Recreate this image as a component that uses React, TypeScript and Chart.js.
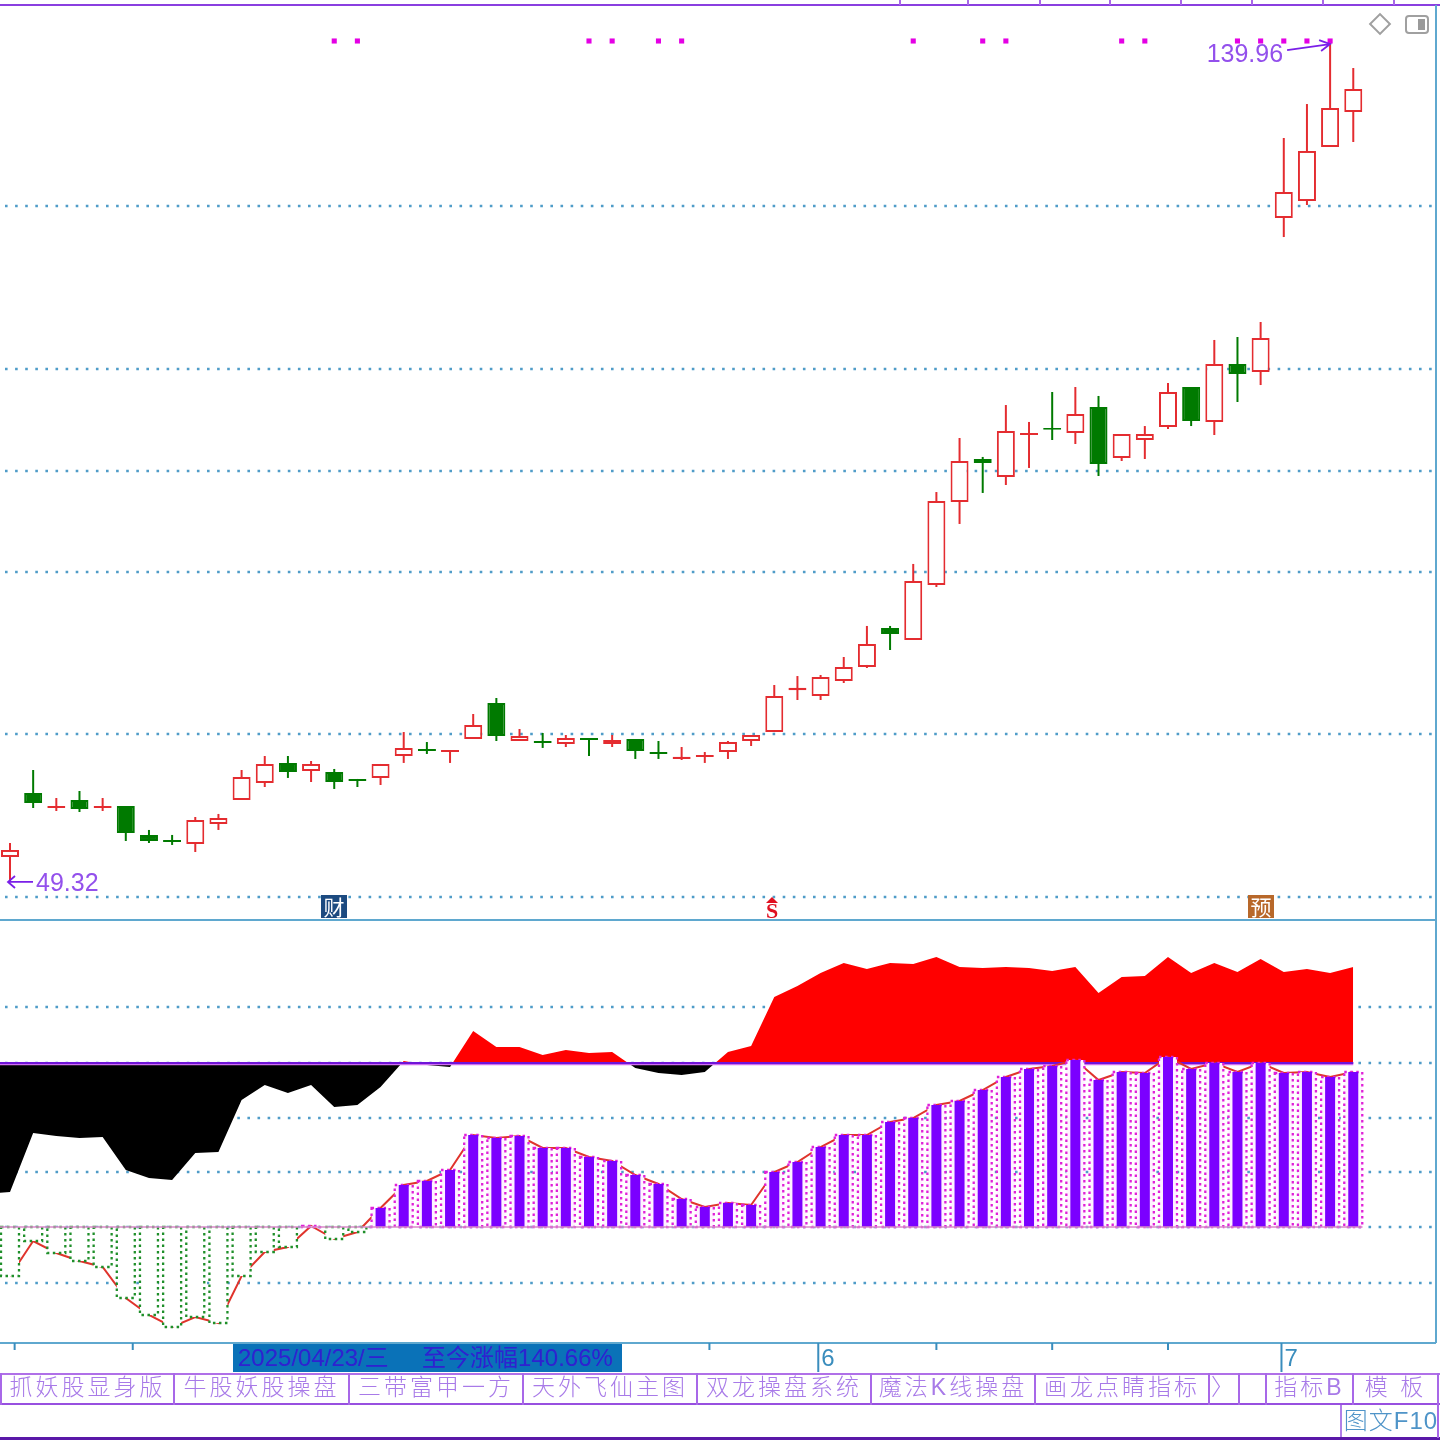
import React, { useEffect, useRef } from "react";
import { Chart, registerables } from "chart.js";

Chart.register(...registerables);

// ---------- candles (daily prices) ----------
const opens = [52.02,58.93,57.32,58.18,57.32,57.53,54.40,53.85,53.42,55.59,58.18,60.01,62.18,61.31,61.20,60.45,60.56,62.93,63.68,63.37,64.77,68.66,64.55,64.54,64.23,64.87,64.23,64.77,63.36,62.60,62.81,63.36,64.55,65.52,70.03,69.41,71.03,72.55,76.76,75.46,81.41,90.37,95.02,93.07,97.62,98.37,97.83,100.64,95.13,97.07,98.48,102.80,99.02,105.28,104.42,121.06,122.89,128.73,132.51];
const closes = [52.78,57.85,57.53,57.21,57.53,54.61,53.75,53.65,56.02,56.23,60.66,62.07,61.20,62.07,60.12,60.23,62.07,63.80,63.48,63.57,66.28,65.09,65.09,64.34,64.88,64.67,64.66,63.47,63.16,62.85,63.05,64.44,65.20,69.41,70.31,71.47,72.55,75.03,76.11,81.84,90.48,94.80,94.60,98.04,97.82,98.17,99.88,94.48,97.72,97.72,102.26,99.13,105.28,104.20,108.09,123.87,128.30,132.94,134.99];
const highs = [53.53,61.42,58.39,59.15,58.39,57.53,54.94,54.40,56.34,56.67,61.42,62.93,62.93,62.39,61.53,60.45,62.07,65.52,64.44,63.57,67.47,69.20,65.85,65.42,65.20,64.87,65.20,64.77,64.55,63.90,63.36,64.55,65.20,70.60,71.57,71.68,73.63,76.98,76.98,83.68,91.45,97.29,95.24,100.85,99.02,102.26,102.80,101.83,97.72,98.58,103.23,102.80,107.88,108.20,109.82,129.70,133.37,139.96,137.26];
const lows = [49.32,57.31,56.99,56.88,56.99,53.75,53.53,53.32,52.56,54.94,58.18,59.58,60.56,60.12,59.37,59.58,59.80,62.18,63.15,62.18,64.77,64.55,64.55,63.80,63.90,62.93,63.90,62.61,62.61,62.50,62.18,62.61,64.01,65.52,68.98,68.98,70.82,72.44,74.38,75.46,81.19,88.00,91.35,92.21,94.05,97.07,96.64,93.18,94.80,95.02,98.26,98.58,97.61,101.18,103.01,119.00,122.46,128.73,129.27];

// ---------- indicator pane ----------
// first value belongs to the session just before the visible window
const trendArea = [33,35,94,91,89,90,57,49,47,74,75,127,142,134,142,120,122,140,166,162,160,196,180,180,172,177,174,175,159,154,152,155,175,181,230,241,254,264,258,264,263,270,260,259,260,259,256,260,234,250,251,270,254,264,255,268,255,258,254,260];
const trendBase = 164;
const histogram = [-49,-14,-26,-34,-40,-71,-88,-100,-90,-96,-49,-25,-20,1,-12,-5,19,42,46,57,92,89,91,79,79,70,66,52,43,28,20,24,22,55,65,80,92,92,105,109,122,126,137,150,158,161,167,147,155,154,170,158,164,155,164,154,155,150,155];

// ---------- marks and grid ----------
const signalDays = [14,15,25,26,28,29,39,42,43,48,49,53,54,55,56,57];
const signalPrice = 140.18;
const priceGrid = [122.35,104.74,93.72,82.81,65.31,47.70];
const indicatorGrid = [220,164,109,55,0,-56];
const weekTicks = [0.2,5.3,30.2,40,45,50];
const monthTicks = [{ day: 34.9, label: "6" }, { day: 54.9, label: "7" }];
const highLabel = { day: 57, price: 139.96 };
const lowLabel = { day: 0, price: 49.32 };

// ---------- interface labels ----------
const tabs = [
  { from: 0, to: 173, text: "抓妖股显身版" },
  { from: 173, to: 348, text: "牛股妖股操盘" },
  { from: 348, to: 522, text: "三带富甲一方" },
  { from: 522, to: 696, text: "天外飞仙主图" },
  { from: 696, to: 870, text: "双龙操盘系统" },
  { from: 870, to: 1034, text: "魔法K线操盘" },
  { from: 1034, to: 1208, text: "画龙点睛指标" },
  { from: 1208, to: 1238, text: "〉" },
  { from: 1238, to: 1265, text: "" },
  { from: 1265, to: 1352, text: "指标B" },
  { from: 1352, to: 1437, text: "模 板" },
];
const rangeLabel = "2025/04/23/三     至今涨幅140.66%";
const topTicks = [900,968,1040,1110,1181,1252,1323,1394];

const UP = "#e42c30";
const DOWN = "#007a00";
const FONT = '"Liberation Sans", "Noto Sans CJK SC", sans-serif';
const days = opens.map((_, i) => i);

const chrome = {
  id: "chrome",
  beforeDatasetsDraw(chart: any) {
    const { ctx, scales } = chart;
    ctx.save();
    ctx.strokeStyle = "#4f9cc8";
    ctx.lineWidth = 2.4;
    ctx.setLineDash([2.6, 7.5]);
    priceGrid.forEach((v) => {
      const y = Math.round(scales.price.getPixelForValue(v));
      ctx.beginPath(); ctx.moveTo(5, y); ctx.lineTo(1436, y); ctx.stroke();
    });
    indicatorGrid.forEach((v) => {
      const y = Math.round(scales.ind.getPixelForValue(v));
      ctx.beginPath(); ctx.moveTo(5, y); ctx.lineTo(1436, y); ctx.stroke();
    });
    ctx.setLineDash([]);
    ctx.restore();
  },
  afterDatasetDraw(chart: any, args: any) {
    const ds = chart.data.datasets[args.index];
    if (!ds.dottedBox) return;
    const { ctx } = chart;
    ctx.save();
    ctx.lineWidth = 2.3;
    ctx.setLineDash([2.5, 3.5]);
    args.meta.data.forEach((bar: any, i: number) => {
      const p = bar.getProps(["x", "y", "base", "width"], true);
      ctx.strokeStyle = histogram[i] >= 0 ? "#e020d8" : "#1f8f2a";
      ctx.strokeRect(p.x - p.width / 2, Math.min(p.y, p.base), p.width, Math.abs(p.base - p.y));
    });
    ctx.restore();
  },
  afterDraw(chart: any) {
    const { ctx, scales } = chart;
    const violet = "#7a1fe8";
    ctx.save();
    // pane borders
    ctx.strokeStyle = "#8a3fe0";
    ctx.lineWidth = 2;
    ctx.beginPath(); ctx.moveTo(0, 5); ctx.lineTo(1440, 5); ctx.stroke();
    ctx.beginPath();
    topTicks.forEach((x) => { ctx.moveTo(x, 0); ctx.lineTo(x, 5); });
    ctx.strokeStyle = "#a868e8"; ctx.stroke();
    ctx.strokeStyle = "#5fa8cf";
    ctx.lineWidth = 2;
    [920, 1343].forEach((y) => { ctx.beginPath(); ctx.moveTo(0, y); ctx.lineTo(1436, y); ctx.stroke(); });
    ctx.beginPath(); ctx.moveTo(1436, 5); ctx.lineTo(1436, 1343); ctx.stroke();
    // time axis
    ctx.strokeStyle = "#3a8dbd";
    weekTicks.forEach((d) => {
      const x = scales.x.getPixelForValue(d);
      ctx.beginPath(); ctx.moveTo(x, 1343); ctx.lineTo(x, 1350); ctx.stroke();
    });
    ctx.fillStyle = "#3a8dbd";
    ctx.font = "24px " + FONT;
    ctx.textBaseline = "alphabetic";
    monthTicks.forEach((t) => {
      const x = scales.x.getPixelForValue(t.day);
      ctx.beginPath(); ctx.moveTo(x, 1343); ctx.lineTo(x, 1372); ctx.stroke();
      ctx.fillText(t.label, x + 3, 1366);
    });
    // extremes
    const hx = scales.x.getPixelForValue(highLabel.day);
    const hy = scales.price.getPixelForValue(highLabel.price);
    ctx.font = "25px " + FONT;
    ctx.fillStyle = "#9350ec";
    ctx.textAlign = "right";
    ctx.fillText(highLabel.price.toFixed(2), hx - 47, hy + 19);
    ctx.strokeStyle = violet;
    ctx.lineWidth = 1.8;
    ctx.beginPath();
    ctx.moveTo(hx - 43, hy + 7); ctx.lineTo(hx, hy + 1);
    ctx.moveTo(hx - 11, hy - 3); ctx.lineTo(hx, hy + 1); ctx.lineTo(hx - 9, hy + 8);
    ctx.stroke();
    const lx = scales.x.getPixelForValue(lowLabel.day);
    const ly = scales.price.getPixelForValue(lowLabel.price);
    ctx.textAlign = "left";
    ctx.fillText(lowLabel.price.toFixed(2), lx + 26, ly + 9);
    ctx.beginPath();
    ctx.moveTo(lx + 23, ly); ctx.lineTo(lx - 2, ly);
    ctx.moveTo(lx + 5, ly - 6); ctx.lineTo(lx - 2, ly); ctx.lineTo(lx + 5, ly + 6);
    ctx.stroke();
    ctx.restore();
  },
};

const abs = (left: number, top: number, width: number, height: number, extra: any = {}) => ({
  position: "absolute", left, top, width, height, boxSizing: "border-box", ...extra,
}) as React.CSSProperties;

export default function App() {
  const ref = useRef<HTMLCanvasElement | null>(null);
  useEffect(() => {
    if (!ref.current) return;
    const color = (i: number) => (closes[i] >= opens[i] ? UP : DOWN);
    const isThin = (i: number) => Math.abs(closes[i] - opens[i]) < 0.45;
    const chart = new Chart(ref.current, {
      type: "bar",
      data: {
        datasets: [
          {
            type: "line", label: "trend", order: 20,
            data: trendArea.map((v, i) => ({ x: i - 1, y: v })), yAxisID: "ind",
            borderWidth: 0, pointRadius: 0, tension: 0,
            fill: { target: { value: trendBase }, above: "#ff0000", below: "#000000" },
          },
          {
            type: "line", label: "level-halo", order: 19,
            data: [{ x: -1, y: trendBase - 0.8 }, { x: 58, y: trendBase - 0.8 }], yAxisID: "ind",
            borderColor: "#d070f0", borderWidth: 3, pointRadius: 0,
          },
          {
            type: "line", label: "level", order: 18,
            data: [{ x: -1, y: trendBase }, { x: 58, y: trendBase }], yAxisID: "ind",
            borderColor: "#6f14d8", borderWidth: 2, pointRadius: 0,
          },
          {
            type: "line", label: "momentum", order: 17,
            data: histogram.map((v, i) => ({ x: i, y: v })), yAxisID: "ind",
            borderColor: "#e0342c", borderWidth: 2, pointRadius: 0, tension: 0,
          },
          {
            type: "bar", label: "box", order: 16, dottedBox: true,
            data: histogram.map((v, i) => ({ x: i, y: v })), yAxisID: "ind",
            backgroundColor: histogram.map((v) => (v >= 0 ? "#fff2ff" : "#ffffff")), borderWidth: 0, grouped: false,
            barThickness: 18, maxBarThickness: 18, inflateAmount: 0,
          } as any,
          {
            type: "bar", label: "histogram", order: 15,
            data: histogram.map((v, i) => ({ x: i, y: v > 1 ? v : null })), yAxisID: "ind",
            backgroundColor: "#7b00ff", borderWidth: 0, grouped: false,
            barThickness: 10, maxBarThickness: 10, inflateAmount: 0,
          } as any,
          {
            type: "line", label: "zero", order: 14,
            data: [{ x: -1, y: 0 }, { x: 58.4, y: 0 }], yAxisID: "ind",
            borderColor: "#d88ac8", borderWidth: 1.5, pointRadius: 0,
          },
          {
            type: "bar", label: "wick", order: 6,
            data: days.map((i) => ({ x: i, y: [lows[i], highs[i]] })), yAxisID: "price",
            backgroundColor: days.map(color), borderWidth: 0, grouped: false,
            barThickness: 2, maxBarThickness: 2, inflateAmount: 0,
          } as any,
          {
            type: "bar", label: "body", order: 5,
            data: days.map((i) => ({ x: i, y: [opens[i], closes[i]] })), yAxisID: "price",
            backgroundColor: days.map((i) => (closes[i] < opens[i] || isThin(i) ? color(i) : "#ffffff")),
            borderColor: days.map(color), borderWidth: 2, borderSkipped: false, grouped: false,
            barThickness: 18, maxBarThickness: 18, inflateAmount: 0,
          } as any,
          {
            type: "scatter", label: "signal", order: 1,
            data: signalDays.map((d) => ({ x: d, y: signalPrice })), yAxisID: "price",
            pointStyle: "rect", pointRadius: 3.6, backgroundColor: "#e400e4", borderWidth: 0,
          } as any,
        ],
      },
      options: {
        responsive: false,
        animation: false,
        devicePixelRatio: 1,
        layout: { padding: 0, autoPadding: false },
        plugins: { legend: { display: false }, tooltip: { enabled: false } },
        scales: {
          x: { type: "linear", display: false, offset: false, min: -0.4318, max: 61.745 },
          price: { type: "linear", display: false, min: -10.97, max: 144.61 },
          ind: { type: "linear", display: false, min: -213, max: 1227 },
        },
      } as any,
      plugins: [chrome],
    });
    return () => chart.destroy();
  }, []);

  const tabText: React.CSSProperties = {
    fontFamily: FONT,
    fontSize: 23, letterSpacing: 3, color: "#a87ae8", textAlign: "center",
    lineHeight: "29px", whiteSpace: "pre", fontWeight: 300,
  };
  const badge: React.CSSProperties = {
    fontFamily: '"Noto Sans CJK SC", sans-serif', fontSize: 21, lineHeight: "23px",
    color: "#fff", textAlign: "center",
  };
  return (
    <div style={{ position: "relative", width: 1440, height: 1440, background: "#fff", overflow: "hidden", filter: "blur(0.55px)" }}>
      <style>{"html,body{margin:0;padding:0;background:#fff}"}</style>
      <canvas ref={ref} width={1440} height={1440} style={{ display: "block", width: 1440, height: 1440 }} />

      {/* corner icons */}
      <div style={abs(1372, 16, 16, 16, { border: "2px solid #a0a0a0", transform: "rotate(45deg)", background: "#fff" })} />
      <div style={abs(1405, 15, 24, 19, { border: "2px solid #a0a0a0", borderRadius: 4, background: "#fff" })}>
        <div style={abs(11, 2, 7, 11, { background: "#9a9a9a" })} />
      </div>

      {/* event badges */}
      <div style={{ ...abs(321, 895, 26, 23, { background: "#1c4a80" }), ...badge }}>财</div>
      <div style={abs(766, 897, 0, 0, { borderLeft: "6px solid transparent", borderRight: "6px solid transparent", borderBottom: "6px solid #e01020" })} />
      <div style={abs(760, 900, 24, 22, { fontFamily: '"Liberation Serif", serif', fontWeight: 700, fontSize: 22, lineHeight: "22px", color: "#e01020", textAlign: "center" })}>S</div>
      <div style={{ ...abs(1248, 895, 26, 23, { background: "#b8682a" }), ...badge }}>预</div>

      {/* selected range */}
      <div style={abs(233, 1344, 389, 28, { background: "#0a72b8", color: "#2f22d0", fontFamily: FONT, fontSize: 24, lineHeight: "28px", paddingLeft: 5, whiteSpace: "pre" })}>{rangeLabel}</div>

      {/* tab row */}
      <div style={abs(0, 1373, 1440, 32, { borderTop: "2px solid #b070e8", borderBottom: "2px solid #9850e0" })} />
      {tabs.map((t) => (
        <div key={t.from} style={{ ...abs(t.from, 1373, t.to - t.from, 32, { borderLeft: "2px solid #a868e8" }), ...tabText }}>{t.text}</div>
      ))}
      <div style={{ ...abs(1340, 1405, 100, 33, { borderLeft: "2px solid #b080e8" }), ...tabText, color: "#4f94c8", fontSize: 24, lineHeight: "32px", letterSpacing: 1 }}>图文F10</div>
      <div style={abs(0, 1437, 1440, 3, { background: "#5a18a8" })} />
      <div style={abs(1437, 1373, 2, 65, { background: "#a868e8" })} />
    </div>
  );
}
